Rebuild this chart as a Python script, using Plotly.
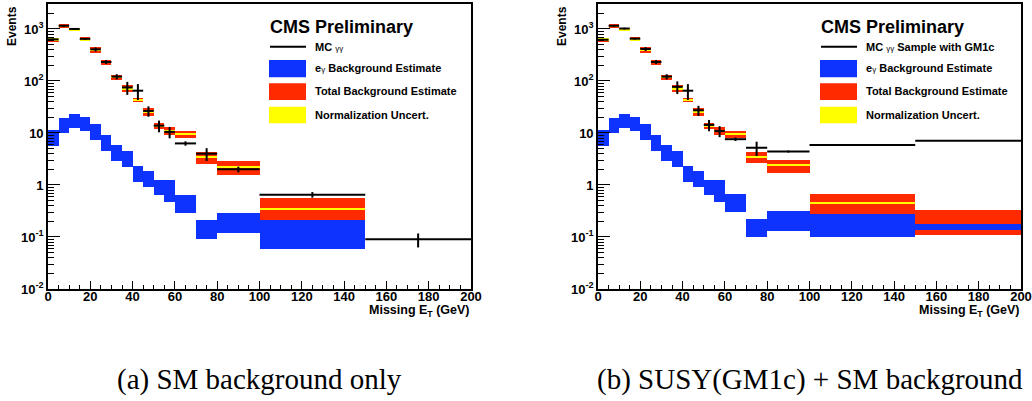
import plotly.graph_objects as go

# ---------------- data ----------------
edges = [0, 5, 10, 15, 20, 25, 30, 35, 40, 45, 50, 55, 60, 70, 80, 100, 150, 200]

# (a) SM background only
mc_a = [630, 1150, 1000, 645, 405, 232, 121, 75, 65, 26.5, 13.8, 10.5, 6.3, 4.0, 2.0, 0.65, 0.09]
mc_a_err = [25, 45, 40, 25, 35, 20, 14, 21, 22, 6, 3.5, 2.6, 0.6, 1.1, 0.25, 0.08, 0.027]
tot_a = [622, 1140, 980, 640, 395, 230, 118, 72, 43, 25.7, 13.8, 11.0, 9.6, 3.41, 2.22, 0.34, None]
tot_a_err = [56, 114, 78, 64, 47, 28, 15, 10, 4.3, 4.1, 1.9, 2.0, 1.45, 0.85, 0.64, 0.23, None]
norm_a_err = [35, 70, 65, 40, 20, 11, 6, 3.6, 2.1, 1.3, 0.7, 0.55, 0.45, 0.17, 0.10, 0.008, None]
eg_a = [8.55, 14.65, 17.6, 15.85, 11.1, 6.87, 4.4, 3.38, 1.74, 1.38, 0.945, 0.86, 0.468, 0.152, 0.205, 0.135, None]
eg_a_err = [2.85, 4.55, 5.3, 4.75, 3.8, 2.3, 1.47, 1.13, 0.58, 0.45, 0.30, 0.39, 0.175, 0.06, 0.088, 0.077, None]

# (b) SUSY(GM1c) + SM background
mc_b = [620, 1150, 1020, 650, 412, 232, 121, 77, 65, 27.3, 14.3, 10.9, 7.6, 5.2, 4.4, 5.9, 7.1]
mc_b_err = [25, 45, 40, 25, 35, 20, 14, 21, 22, 6, 3.5, 2.6, 0.6, 1.6, 0.2, 0.1, 0.1]
tot_b = [622, 1140, 980, 640, 395, 230, 118, 72, 43, 25.7, 13.8, 11.0, 9.5, 3.52, 2.38, 0.445, 0.22]
tot_b_err = [56, 114, 78, 64, 47, 28, 15, 10, 4.3, 4.1, 1.9, 2.0, 1.4, 0.85, 0.65, 0.225, 0.11]
norm_b_err = [35, 70, 65, 40, 20, 11, 6, 3.6, 2.1, 1.3, 0.7, 0.55, 0.45, 0.17, 0.11, 0.008, None]
eg_b = [8.55, 14.65, 17.6, 15.85, 11.1, 6.87, 4.4, 3.38, 1.74, 1.38, 0.945, 0.86, 0.485, 0.16, 0.224, 0.19, 0.157]
eg_b_err = [2.85, 4.55, 5.3, 4.75, 3.8, 2.3, 1.47, 1.13, 0.58, 0.45, 0.30, 0.39, 0.18, 0.059, 0.092, 0.088, 0.021]

ytick_vals = [0.01, 0.1, 1, 10, 100, 1000]
ytick_text = ["10<sup>-2</sup>", "10<sup>-1</sup>", "1", "10", "10<sup>2</sup>", "10<sup>3</sup>"]
xtick_vals = [0, 20, 40, 60, 80, 100, 120, 140, 160, 180, 200]

legend_a = ["<b>MC</b> <span style='font-size:8px'>γγ</span>",
            "<b>e</b><span style='font-size:8px'>γ</span><b> Background Estimate</b>",
            "<b>Total Background Estimate</b>",
            "<b>Normalization Uncert.</b>"]
legend_b = ["<b>MC</b> <span style='font-size:8px'>γγ</span><b> Sample with GM1c</b>",
            legend_a[1], legend_a[2], legend_a[3]]
captions = ["(a) SM background only", "(b) SUSY(GM1c) + SM background"]

# ---------------- style ----------------
W, H = 1032, 401
BLUE = "#0f33ff"
RED = "#ff2a00"
YEL = "#ffff00"
SANS = "Liberation Sans, Arial, Helvetica, sans-serif"
SERIF = "Liberation Serif, Times New Roman, serif"

def px(x):
    return x / W

def py(y):
    return 1 - y / H

centers = [(edges[i] + edges[i + 1]) / 2 for i in range(len(edges) - 1)]
widths = [edges[i + 1] - edges[i] for i in range(len(edges) - 1)]
halfw = [w / 2 for w in widths]

def band(c, e):
    base, h = [], []
    for ci, ei in zip(c, e):
        if ci is None or ei is None:
            base.append(None)
            h.append(None)
        else:
            base.append(ci - ei)
            h.append(2 * ei)
    return base, h

fig = go.Figure()

panels = [
    dict(mc=mc_a, mce=mc_a_err, tot=tot_a, tote=tot_a_err, norme=norm_a_err, eg=eg_a, ege=eg_a_err,
         xa="x", ya="y", x0=48, x1=471, leg=legend_a, lx=269, cap=captions[0]),
    dict(mc=mc_b, mce=mc_b_err, tot=tot_b, tote=tot_b_err, norme=norm_b_err, eg=eg_b, ege=eg_b_err,
         xa="x2", ya="y2", x0=598, x1=1021, leg=legend_b, lx=820, cap=captions[1]),
]

annotations = []
shapes = []

for p in panels:
    for c, e, col in [(p["tot"], p["tote"], RED), (p["tot"], p["norme"], YEL), (p["eg"], p["ege"], BLUE)]:
        base, h = band(c, e)
        fig.add_trace(go.Bar(x=centers, y=h, base=base, width=widths, marker=dict(color=col, line=dict(width=0)),
                             xaxis=p["xa"], yaxis=p["ya"], showlegend=False, hoverinfo="skip"))
    fig.add_trace(go.Scatter(x=centers, y=p["mc"], mode="markers", marker=dict(size=1, color="black"),
                             error_x=dict(type="data", array=halfw, thickness=2, width=0, color="black"),
                             error_y=dict(type="data", array=p["mce"], thickness=2, width=0, color="black"),
                             xaxis=p["xa"], yaxis=p["ya"], showlegend=False, hoverinfo="skip"))

    lx = p["lx"]
    # legend
    annotations.append(dict(text="<b>CMS Preliminary</b>", x=px(lx - 1), y=py(27), xref="paper", yref="paper",
                            xanchor="left", yanchor="middle", showarrow=False,
                            font=dict(family=SANS, size=18, color="black")))
    shapes.append(dict(type="line", xref="paper", yref="paper", x0=px(lx + 1), x1=px(lx + 37),
                       y0=py(46.7), y1=py(46.7), line=dict(color="black", width=2)))
    for (ya, yb), col in zip([(60, 77.3), (83.3, 100), (106.7, 123.3)], [BLUE, RED, YEL]):
        shapes.append(dict(type="rect", xref="paper", yref="paper", x0=px(lx), x1=px(lx + 37),
                           y0=py(ya), y1=py(yb), fillcolor=col, line=dict(width=0)))
    for txt, yc in zip(p["leg"], [47, 68.5, 91.5, 115]):
        annotations.append(dict(text=txt, x=px(lx + 44), y=py(yc), xref="paper", yref="paper",
                                xanchor="left", yanchor="middle", showarrow=False,
                                font=dict(family=SANS, size=11, color="black")))
    # axis titles
    annotations.append(dict(text="<b>Events</b>", x=px(p["x0"] - 36), y=py(26), xref="paper", yref="paper",
                            xanchor="center", yanchor="middle", textangle=-90, showarrow=False,
                            font=dict(family=SANS, size=12, color="black")))
    annotations.append(dict(text="<b>Missing E<sub>T</sub> (GeV)</b>", x=px(p["x1"] + 1), y=py(301),
                            xref="paper", yref="paper", xanchor="right", yanchor="top", showarrow=False,
                            font=dict(family=SANS, size=12.5, color="black")))
    # caption
    annotations.append(dict(text=p["cap"], x=px((p["x0"] + p["x1"]) / 2), y=py(379), xref="paper", yref="paper",
                            xanchor="center", yanchor="middle", showarrow=False,
                            font=dict(family=SERIF, size=29, color="black")))

minor_y = [d * 10.0 ** k for k in range(-2, 4) for d in range(2, 10) if d * 10.0 ** k < 3100]

def xaxis(x0, x1, anchor):
    return dict(domain=[px(x0), px(x1)], range=[0, 200], anchor=anchor, automargin=False,
                showline=True, mirror=True, linecolor="black", linewidth=1.6,
                ticks="inside", ticklen=8, tickwidth=1, tickcolor="black",
                tickmode="array", tickvals=xtick_vals, showgrid=False, zeroline=False,
                ticklabelstandoff=-5,
                tickfont=dict(family=SANS, size=13, color="black", weight="bold"),
                minor=dict(ticks="inside", dtick=5, ticklen=4, tickwidth=1, tickcolor="black", showgrid=False))

def yaxis(anchor):
    return dict(domain=[py(289), py(4)], type="log", range=[-2, 3.48], anchor=anchor, automargin=False,
                showline=True, mirror=True, linecolor="black", linewidth=1.6,
                ticks="inside", ticklen=12, tickwidth=1, tickcolor="black",
                tickmode="array", tickvals=ytick_vals, ticktext=ytick_text, showgrid=False, zeroline=False,
                tickfont=dict(family=SANS, size=13, color="black", weight="bold"),
                minor=dict(ticks="inside", tickmode="array", tickvals=minor_y, ticklen=6, tickwidth=1,
                           tickcolor="black", showgrid=False))

fig.update_layout(
    width=W, height=H, margin=dict(l=0, r=0, t=0, b=0, autoexpand=False),
    paper_bgcolor="white", plot_bgcolor="white",
    barmode="overlay", bargap=0,
    xaxis=xaxis(48, 471, "y"), yaxis=yaxis("x"),
    xaxis2=xaxis(598, 1021, "y2"), yaxis2=yaxis("x2"),
    annotations=annotations, shapes=shapes,
    showlegend=False,
)

fig.write_html("out.html", config={"displayModeBar": False},
               post_script="document.body.style.margin='0px';")
